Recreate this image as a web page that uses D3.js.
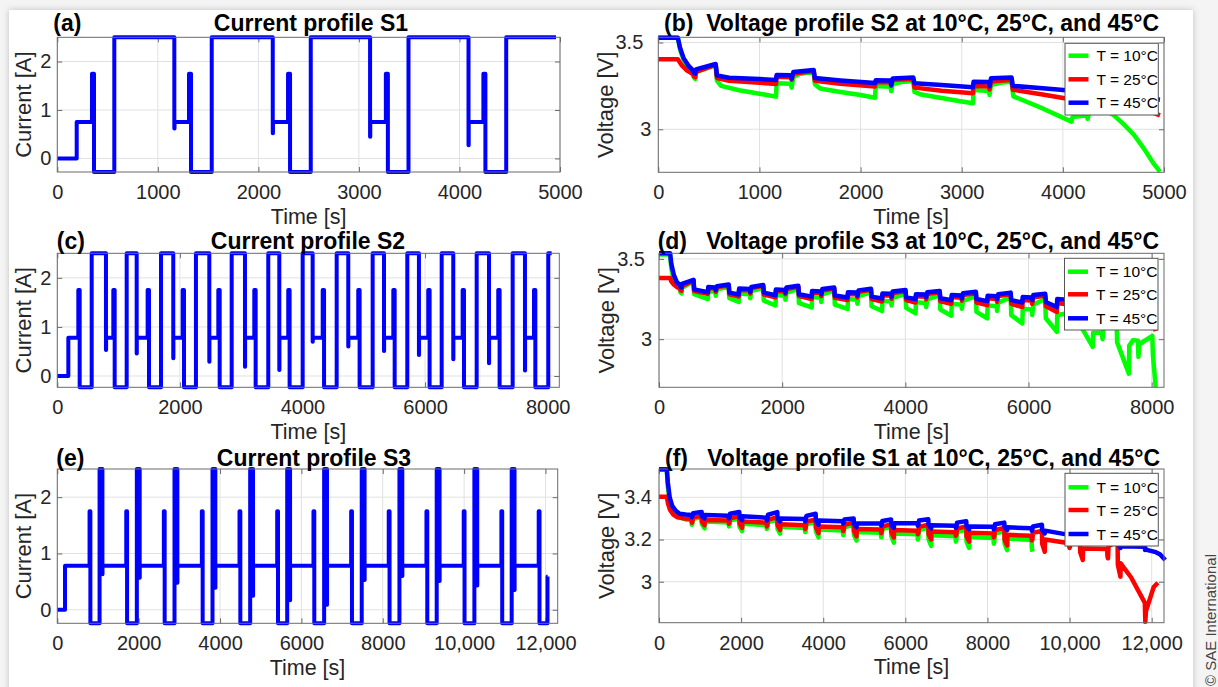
<!DOCTYPE html>
<html>
<head>
<meta charset="utf-8">
<script src="https://cdn.jsdelivr.net/npm/d3@7"></script>
<style>
  html, body { margin: 0; padding: 0; background: #f4f4f4; }
  svg { display: block; }
  text { font-family: "Liberation Sans", Arial, Helvetica, sans-serif; }
</style>
</head>
<body>
<svg id="fig" width="1218" height="687"></svg>
<script>
// ---------- current profiles: [time s, current A], step-after ----------
const currentS1 = [
  [0,0],[193,0.75],[345,1.75],[365,-0.28],[567,2.5],[1164,0.62],[1166,0.75],
  [1310,1.75],[1330,-0.28],[1536,2.5],[2143,0.52],[2145,0.75],
  [2295,1.75],[2315,-0.28],[2521,2.5],[3111,0.45],[3113,0.75],
  [3268,1.75],[3288,-0.28],[3493,2.5],[4090,0.27],[4092,0.75],
  [4238,1.75],[4258,-0.28],[4465,2.5],[4960,2.5]
];
const currentS2 = [
  [0,0],[180,0.78],[343,1.75],[365,-0.23],[561,2.5],[794,0.53],[796,0.78],
  [914,1.75],[936,-0.23],[1132,2.5],[1295,0.46],[1297,0.78],
  [1474,1.75],[1496,-0.23],[1692,2.5],[1892,0.36],[1894,0.78],
  [2045,1.75],[2067,-0.23],[2262,2.5],[2480,0.29],[2482,0.78],
  [2627,1.75],[2649,-0.23],[2845,2.5],[3062,0.19],[3064,0.78],
  [3214,1.75],[3236,-0.23],[3442,2.5],[3622,0.12],[3624,0.78],
  [3768,1.75],[3790,-0.23],[4003,2.5],[4166,0.70],[4168,0.78],
  [4330,1.75],[4352,-0.23],[4558,2.5],[4747,0.60],[4749,0.78],
  [4910,1.75],[4932,-0.23],[5145,2.5],[5330,0.51],[5332,0.78],
  [5482,1.75],[5504,-0.23],[5710,2.5],[5900,0.43],[5902,0.78],
  [6052,1.75],[6074,-0.23],[6271,2.5],[6460,0.34],[6462,0.78],
  [6613,1.75],[6635,-0.23],[6842,2.5],[7043,0.26],[7045,0.78],
  [7194,1.75],[7216,-0.23],[7429,2.5],[7630,0.11],[7632,0.78],
  [7777,1.75],[7799,-0.23],[8010,2.5],[8065,2.5]
];
const currentS3 = [
  [0,0],[190,0.78],
  [793,1.75],[813,-0.24],[1039,2.5],[1109,0.63],[1111,0.78],
  [1695,1.75],[1715,-0.24],[1955,2.5],[2025,0.57],[2027,0.78],
  [2619,1.75],[2639,-0.24],[2881,2.5],[2951,0.48],[2953,0.78],
  [3553,1.75],[3573,-0.24],[3815,2.5],[3885,0.39],[3887,0.78],
  [4479,1.75],[4499,-0.24],[4741,2.5],[4811,0.25],[4813,0.78],
  [5405,1.75],[5425,-0.24],[5651,2.5],[5721,0.17],[5723,0.78],
  [6297,1.75],[6317,-0.24],[6559,2.5],[6629,0.09],[6631,0.78],
  [7223,1.75],[7243,-0.24],[7483,2.5],[7553,0.53],[7555,0.78],
  [8147,1.75],[8167,-0.24],[8410,2.5],[8480,0.60],[8482,0.78],
  [9074,1.75],[9094,-0.24],[9326,2.5],[9396,0.51],[9398,0.78],
  [9990,1.75],[10010,-0.24],[10252,2.5],[10322,0.43],[10324,0.78],
  [10916,1.75],[10936,-0.24],[11169,2.5],[11239,0.35],[11241,0.78],
  [11833,1.75],[11853,-0.24],[12049,0.59],[12050,0.59]
];

// ---------- voltage profile S2: [time s, voltage V] ----------
const voltS2_10C = [
  [0,3.528],[193,3.528],[215,3.46],[250,3.40],[300,3.345],[345,3.313],[352,3.30],[365,3.29],[372,3.33],[567,3.37],
  [580,3.28],[620,3.25],[800,3.225],[1000,3.205],[1164,3.188],[1170,3.265],[1310,3.262],[1318,3.24],[1335,3.30],[1400,3.32],[1536,3.33],
  [1548,3.26],[1600,3.235],[1800,3.215],[2000,3.197],[2143,3.182],[2150,3.25],[2295,3.245],[2303,3.22],[2318,3.26],[2400,3.272],[2521,3.278],
  [2533,3.215],[2600,3.2],[2800,3.18],[3000,3.16],[3111,3.15],[3117,3.226],[3268,3.22],[3275,3.198],[3290,3.255],[3400,3.27],[3493,3.274],
  [3510,3.19],[3800,3.12],[4085,3.044],[4095,3.07],[4238,3.08],[4245,3.06],[4262,3.10],[4465,3.12],
  [4475,3.09],[4505,3.08],[4600,3.03],[4700,2.97],[4800,2.89],[4900,2.80],[4960,2.756]
];
const voltS2_25C = [
  [0,3.403],[193,3.403],[230,3.37],[280,3.34],[345,3.318],[352,3.305],[365,3.30],[372,3.33],[567,3.372],
  [580,3.295],[700,3.28],[1000,3.268],[1164,3.261],[1170,3.303],[1310,3.30],[1318,3.285],[1335,3.32],[1536,3.335],
  [1548,3.28],[1800,3.262],[2143,3.247],[2150,3.273],[2295,3.27],[2303,3.25],[2318,3.285],[2521,3.29],
  [2533,3.24],[2800,3.222],[3111,3.207],[3117,3.25],[3268,3.246],[3275,3.23],[3290,3.275],[3493,3.285],
  [3505,3.228],[3800,3.2],[4090,3.172],[4095,3.21],[4238,3.205],[4245,3.19],[4262,3.23],[4465,3.24],
  [4475,3.18],[4700,3.14],[4960,3.08]
];
const voltS2_45C = [
  [0,3.528],[193,3.528],[215,3.47],[250,3.41],[300,3.365],[345,3.338],[352,3.325],[365,3.32],[372,3.345],[567,3.376],
  [580,3.31],[700,3.297],[1000,3.289],[1164,3.284],[1170,3.313],[1310,3.311],[1318,3.292],[1335,3.33],[1536,3.342],
  [1548,3.295],[1800,3.281],[2143,3.266],[2150,3.283],[2295,3.281],[2303,3.255],[2318,3.292],[2521,3.298],
  [2533,3.265],[2800,3.255],[3111,3.242],[3117,3.274],[3268,3.272],[3275,3.248],[3290,3.294],[3493,3.298],
  [3505,3.25],[3800,3.237],[4090,3.222],[4095,3.25],[4238,3.248],[4245,3.235],[4262,3.26],[4465,3.265],
  [4475,3.21],[4700,3.19],[4960,3.17]
];

// ---------- voltage profile S3 ----------
const voltS3_10C = [
  [0,3.527],[180,3.527],[200,3.44],[240,3.37],[290,3.33],[343,3.31],[350,3.29],[365,3.285],[372,3.32],[561,3.36],
  [571,3.28],[794,3.25],[800,3.30],[914,3.295],[922,3.27],[940,3.31],[1132,3.325],
  [1142,3.255],[1295,3.232],[1301,3.285],[1474,3.28],[1482,3.255],[1500,3.30],[1692,3.32],
  [1702,3.24],[1892,3.21],[1898,3.275],[2045,3.27],[2053,3.245],[2070,3.29],[2262,3.312],
  [2272,3.225],[2480,3.198],[2486,3.262],[2627,3.258],[2635,3.232],[2652,3.28],[2845,3.302],
  [2855,3.215],[3062,3.188],[3068,3.25],[3214,3.246],[3222,3.22],[3240,3.268],[3442,3.292],
  [3452,3.205],[3622,3.175],[3628,3.24],[3768,3.235],[3776,3.21],[3794,3.258],[4003,3.282],
  [4013,3.195],[4166,3.161],[4172,3.23],[4330,3.225],[4338,3.2],[4356,3.248],[4558,3.275],
  [4568,3.185],[4747,3.146],[4753,3.22],[4910,3.215],[4918,3.19],[4936,3.238],[5145,3.268],
  [5155,3.17],[5330,3.13],[5336,3.21],[5482,3.205],[5490,3.175],[5508,3.228],[5710,3.26],
  [5720,3.15],[5900,3.098],[5906,3.19],[6052,3.185],[6060,3.15],[6078,3.215],[6271,3.25],
  [6281,3.13],[6460,3.046],[6466,3.15],[6613,3.16],[6621,3.12],[6639,3.19],[6842,3.22],
  [6852,3.08],[7043,2.952],[7049,3.04],[7194,3.04],[7202,3.0],[7220,3.08],[7429,3.14],
  [7439,2.98],[7630,2.785],[7636,2.96],[7700,2.994],[7777,2.99],[7785,2.89],[7803,2.97],[8010,3.02],
  [8020,2.9],[8065,2.70]
];
const voltS3_25C = [
  [0,3.381],[180,3.381],[200,3.36],[240,3.34],[290,3.325],[343,3.318],[350,3.305],[365,3.302],[372,3.33],[561,3.365],
  [571,3.30],[794,3.282],[800,3.318],[914,3.315],[922,3.295],[940,3.325],[1132,3.335],
  [1142,3.28],[1295,3.266],[1301,3.307],[1474,3.304],[1482,3.285],[1500,3.318],[1692,3.332],
  [1702,3.278],[1892,3.26],[1898,3.30],[2045,3.297],[2053,3.28],[2070,3.313],[2262,3.326],
  [2272,3.268],[2480,3.25],[2486,3.29],[2627,3.287],[2635,3.268],[2652,3.303],[2845,3.315],
  [2855,3.258],[3062,3.243],[3068,3.282],[3214,3.28],[3222,3.26],[3240,3.295],[3442,3.307],
  [3452,3.25],[3622,3.235],[3628,3.274],[3768,3.272],[3776,3.252],[3794,3.287],[4003,3.298],
  [4013,3.243],[4166,3.228],[4172,3.268],[4330,3.265],[4338,3.248],[4356,3.282],[4558,3.292],
  [4568,3.236],[4747,3.22],[4753,3.262],[4910,3.258],[4918,3.24],[4936,3.275],[5145,3.286],
  [5155,3.228],[5330,3.212],[5336,3.255],[5482,3.25],[5490,3.232],[5508,3.268],[5710,3.28],
  [5720,3.22],[5900,3.2],[5906,3.245],[6052,3.24],[6060,3.22],[6078,3.26],[6271,3.272],
  [6281,3.205],[6460,3.17],[6466,3.225],[6613,3.218],[6621,3.2],[6639,3.24],[6842,3.255],
  [6852,3.18],[7043,3.13],[7049,3.2],[7194,3.19],[7202,3.17],[7220,3.215],[7429,3.235],
  [7439,3.15],[7630,3.08],[7636,3.17],[7777,3.16],[7785,3.13],[7803,3.19],[8010,3.21],
  [8020,3.10],[8065,3.05]
];
const voltS3_45C = [
  [0,3.535],[180,3.535],[200,3.47],[240,3.40],[290,3.355],[343,3.338],[350,3.325],[365,3.322],[372,3.345],[561,3.37],
  [571,3.31],[794,3.292],[800,3.325],[914,3.322],[922,3.305],[940,3.33],[1132,3.34],
  [1142,3.29],[1295,3.278],[1301,3.315],[1474,3.312],[1482,3.295],[1500,3.325],[1692,3.338],
  [1702,3.29],[1892,3.274],[1898,3.31],[2045,3.307],[2053,3.29],[2070,3.322],[2262,3.333],
  [2272,3.28],[2480,3.265],[2486,3.30],[2627,3.297],[2635,3.28],[2652,3.312],[2845,3.322],
  [2855,3.272],[3062,3.26],[3068,3.292],[3214,3.29],[3222,3.272],[3240,3.304],[3442,3.314],
  [3452,3.265],[3622,3.253],[3628,3.285],[3768,3.283],[3776,3.265],[3794,3.297],[4003,3.306],
  [4013,3.26],[4166,3.25],[4172,3.28],[4330,3.278],[4338,3.262],[4356,3.292],[4558,3.30],
  [4568,3.255],[4747,3.243],[4753,3.275],[4910,3.272],[4918,3.255],[4936,3.286],[5145,3.295],
  [5155,3.25],[5330,3.237],[5336,3.27],[5482,3.268],[5490,3.25],[5508,3.28],[5710,3.29],
  [5720,3.243],[5900,3.228],[5906,3.263],[6052,3.26],[6060,3.243],[6078,3.275],[6271,3.283],
  [6281,3.232],[6460,3.20],[6466,3.25],[6613,3.245],[6621,3.23],[6639,3.26],[6842,3.27],
  [6852,3.22],[7043,3.195],[7049,3.235],[7194,3.23],[7202,3.215],[7220,3.248],[7429,3.258],
  [7439,3.205],[7630,3.178],[7636,3.22],[7777,3.215],[7785,3.2],[7803,3.235],[8010,3.245],
  [8020,3.19],[8065,3.18]
];

// ---------- voltage profile S1 ----------
const voltS1_10C = [
  [0,3.53],[190,3.53],[215,3.45],[260,3.38],[320,3.34],[400,3.32],[500,3.305],[650,3.295],[793,3.292],[800,3.27],[813,3.275],[830,3.298],[1039,3.305],
  [1045,3.272],[1109,3.253],[1115,3.285],[1695,3.28],
  [1702,3.262],[1715,3.268],[1730,3.29],[1955,3.30],[1962,3.26],[2025,3.24],[2031,3.275],[2619,3.268],
  [2626,3.25],[2639,3.255],[2655,3.283],[2881,3.293],[2888,3.25],[2951,3.228],[2957,3.26],[3553,3.255],
  [3560,3.235],[3573,3.24],[3590,3.272],[3815,3.283],[3822,3.24],[3885,3.21],[3891,3.248],[4479,3.243],
  [4486,3.22],[4499,3.228],[4515,3.258],[4741,3.27],[4748,3.222],[4811,3.195],[4817,3.236],[5405,3.232],
  [5412,3.21],[5425,3.218],[5440,3.25],[5651,3.26],[5658,3.215],[5721,3.185],[5727,3.228],[6297,3.225],
  [6304,3.2],[6317,3.208],[6333,3.245],[6559,3.256],[6566,3.2],[6629,3.17],[6635,3.22],[7223,3.215],
  [7230,3.19],[7243,3.198],[7260,3.235],[7483,3.247],[7490,3.19],[7553,3.16],[7559,3.212],[8147,3.207],
  [8154,3.18],[8167,3.19],[8183,3.228],[8410,3.24],[8417,3.18],[8480,3.15],[8486,3.205],[9074,3.198],
  [9081,3.16],[9100,3.142]
];
const voltS1_25C = [
  [0,3.403],[190,3.403],[220,3.37],[270,3.34],[350,3.318],[450,3.305],[600,3.30],[793,3.298],[800,3.28],[813,3.285],[830,3.305],[1039,3.312],
  [1045,3.285],[1109,3.268],[1115,3.293],[1695,3.29],
  [1702,3.275],[1715,3.28],[1730,3.30],[1955,3.31],[1962,3.275],[2025,3.255],[2031,3.285],[2619,3.28],
  [2626,3.262],[2639,3.268],[2655,3.295],[2881,3.305],[2888,3.268],[2951,3.245],[2957,3.272],[3553,3.268],
  [3560,3.25],[3573,3.256],[3590,3.285],[3815,3.295],[3822,3.258],[3885,3.23],[3891,3.262],[4479,3.258],
  [4486,3.24],[4499,3.246],[4515,3.27],[4741,3.28],[4748,3.24],[4811,3.215],[4817,3.25],[5405,3.247],
  [5412,3.23],[5425,3.236],[5440,3.262],[5651,3.272],[5658,3.235],[5721,3.21],[5727,3.245],[6297,3.242],
  [6304,3.225],[6317,3.23],[6333,3.26],[6559,3.27],[6566,3.225],[6629,3.20],[6635,3.238],[7223,3.235],
  [7230,3.218],[7243,3.224],[7260,3.252],[7483,3.262],[7490,3.215],[7553,3.19],[7559,3.232],[8147,3.228],
  [8154,3.21],[8167,3.216],[8183,3.245],[8410,3.255],[8417,3.2],[8480,3.172],[8486,3.222],[9074,3.218],
  [9081,3.195],[9094,3.2],[9110,3.232],[9326,3.24],[9333,3.18],[9396,3.142],[9402,3.20],[9990,3.182],
  [9997,3.16],[10010,3.165],[10025,3.2],[10252,3.21],[10259,3.14],[10322,3.103],[10328,3.158],[10916,3.155],
  [10923,3.12],[10936,3.111],[10950,3.17],[11169,3.19],[11176,3.08],[11239,3.024],[11245,3.087],
  [11500,3.02],[11833,2.90],[11845,2.81],[11860,2.86],[12049,2.975],[12150,2.995]
];
const voltS1_45C = [
  [0,3.533],[190,3.533],[215,3.47],[260,3.40],[320,3.36],[400,3.338],[500,3.322],[650,3.318],[793,3.316],[800,3.305],[813,3.31],[830,3.325],[1039,3.33],
  [1045,3.31],[1109,3.30],[1115,3.316],[1695,3.312],
  [1702,3.30],[1715,3.305],[1730,3.322],[1955,3.33],[1962,3.305],[2025,3.292],[2031,3.31],[2619,3.303],
  [2626,3.29],[2639,3.295],[2655,3.318],[2881,3.33],[2888,3.30],[2951,3.285],[2957,3.30],[3553,3.297],
  [3560,3.285],[3573,3.29],[3590,3.312],[3815,3.322],[3822,3.29],[3885,3.27],[3891,3.29],[4479,3.287],
  [4486,3.275],[4499,3.28],[4515,3.295],[4741,3.30],[4748,3.275],[4811,3.258],[4817,3.276],[5405,3.276],
  [5412,3.265],[5425,3.27],[5440,3.288],[5651,3.295],[5658,3.27],[5721,3.255],[5727,3.277],[6297,3.277],
  [6304,3.265],[6317,3.27],[6333,3.29],[6559,3.296],[6566,3.27],[6629,3.253],[6635,3.267],[7223,3.265],
  [7230,3.255],[7243,3.26],[7260,3.28],[7483,3.287],[7490,3.262],[7553,3.248],[7559,3.262],[8147,3.26],
  [8154,3.248],[8167,3.252],[8183,3.272],[8410,3.28],[8417,3.258],[8480,3.245],[8486,3.258],[9074,3.253],
  [9081,3.242],[9094,3.248],[9110,3.262],[9326,3.27],[9333,3.245],[9396,3.229],[9402,3.242],[9990,3.222],
  [9997,3.21],[10010,3.215],[10025,3.235],[10252,3.24],[10259,3.215],[10322,3.195],[10328,3.21],[10916,3.19],
  [10923,3.18],[10936,3.185],[10950,3.205],[11169,3.21],[11176,3.18],[11239,3.16],[11245,3.168],[11833,3.166],
  [11840,3.15],[11853,3.155],[11900,3.15],[12100,3.14],[12200,3.13],[12330,3.103]
];

// ---------- axis ticks and labels ----------
const ticksTime5k = [0, 1000, 2000, 3000, 4000, 5000];
const ticksTime8k = [0, 2000, 4000, 6000, 8000];
const ticksTime12k = [0, 2000, 4000, 6000, 8000, 10000, 12000];
const labelsTime12k = ["0", "2000", "4000", "6000", "8000", "10,000", "12,000"];
const ticksCurrent = [0, 1, 2];
const ticksVoltHalf = [3, 3.5];
const ticksVoltFine = [3, 3.2, 3.4];

const seriesNames = ["T = 10°C", "T = 25°C", "T = 45°C"];
const seriesColors = ["#00ff00", "#ff0000", "#0000ff"];

// ---------- figure setup ----------
const svg = d3.select("#fig");
const defs = svg.append("defs");
const shadow = defs.append("filter").attr("id", "cardShadow")
  .attr("x", "-5%").attr("y", "-5%").attr("width", "110%").attr("height", "110%");
shadow.append("feDropShadow").attr("dx", 0).attr("dy", 0)
  .attr("stdDeviation", 3).attr("flood-color", "#000").attr("flood-opacity", 0.22);

svg.append("rect").attr("width", 1218).attr("height", 687).attr("fill", "#f4f4f4");
svg.append("rect").attr("x", 9).attr("y", 10).attr("width", 1184).attr("height", 700)
  .attr("fill", "#fff").attr("filter", "url(#cardShadow)");

const FONT = '"Liberation Sans", Arial, Helvetica, sans-serif';
const AXIS_GREY = "#6b6b6b";
const TEXT_GREY = "#262626";

function styleAxis(sel) {
  sel.select(".domain").remove();
  sel.selectAll(".tick line").attr("stroke", AXIS_GREY).attr("stroke-width", 1);
  sel.selectAll("text").attr("font-family", FONT).attr("font-size", 20).attr("fill", TEXT_GREY);
}

function drawPanel(p) {
  const b = p.box;
  const x = d3.scaleLinear().domain(p.xDomain).range([b.left, b.right]);
  const y = d3.scaleLinear().domain(p.yDomain).range([b.bottom, b.top]);
  const g = svg.append("g");

  // grid
  g.append("g").selectAll("line").data(p.xTicks).join("line")
    .attr("x1", d => x(d)).attr("x2", d => x(d))
    .attr("y1", b.top).attr("y2", b.bottom)
    .attr("stroke", "#e1e1e1").attr("stroke-width", 1);
  g.append("g").selectAll("line").data(p.yTicks).join("line")
    .attr("x1", b.left).attr("x2", b.right)
    .attr("y1", d => y(d)).attr("y2", d => y(d))
    .attr("stroke", "#e1e1e1").attr("stroke-width", 1);

  // axes (inward ticks on all four sides)
  const xl = p.xTickLabels;
  g.append("g").attr("transform", `translate(0,${b.bottom})`)
    .call(d3.axisBottom(x).tickValues(p.xTicks)
      .tickFormat((d, i) => xl ? xl[i] : String(d))
      .tickSizeInner(-5).tickSizeOuter(0).tickPadding(13))
    .call(styleAxis);
  g.append("g").attr("transform", `translate(0,${b.top})`)
    .call(d3.axisTop(x).tickValues(p.xTicks).tickFormat("").tickSizeInner(-5).tickSizeOuter(0))
    .call(styleAxis);
  const yAxis = g.append("g").attr("transform", `translate(${b.left},0)`)
    .call(d3.axisLeft(y).tickValues(p.yTicks).tickFormat(d => String(d))
      .tickSizeInner(-5).tickSizeOuter(0).tickPadding(p.yPad))
    .call(styleAxis);
  if (p.topLabelShift) {
    yAxis.selectAll(".tick").filter(d => d === p.yTicks[p.yTicks.length - 1])
      .select("text").attr("dx", p.topLabelShift);
  }
  g.append("g").attr("transform", `translate(${b.right},0)`)
    .call(d3.axisRight(y).tickValues(p.yTicks).tickFormat("").tickSizeInner(-5).tickSizeOuter(0))
    .call(styleAxis);

  // series
  const line = d3.line().x(d => x(d[0])).y(d => y(d[1]));
  if (p.step) line.curve(d3.curveStepAfter);
  p.series.forEach((s, i) => {
    g.append("path").datum(s)
      .attr("d", line)
      .attr("fill", "none")
      .attr("stroke", p.colors[i])
      .attr("stroke-width", p.lineWidth)
      .attr("stroke-linejoin", "round")
      .attr("stroke-linecap", "butt");
  });

  // box
  g.append("rect").attr("x", b.left).attr("y", b.top)
    .attr("width", b.right - b.left).attr("height", b.bottom - b.top)
    .attr("fill", "none").attr("stroke", AXIS_GREY).attr("stroke-width", 1);

  // axis labels
  const cx = (b.left + b.right) / 2, cy = (b.top + b.bottom) / 2;
  g.append("text").attr("x", cx).attr("y", b.bottom + 51.5)
    .attr("text-anchor", "middle").attr("font-size", 21.5).attr("fill", TEXT_GREY)
    .text("Time [s]");
  g.append("text")
    .attr("transform", `translate(${b.left - p.yLabelGap},${cy}) rotate(-90)`)
    .attr("text-anchor", "middle").attr("font-size", 22).attr("fill", TEXT_GREY)
    .text(p.yLabel);

  // titles
  if (p.tag) {
    g.append("text").attr("x", b.left + p.tagDx).attr("y", p.titleY)
      .attr("font-size", 23).attr("font-weight", "bold").attr("fill", "#000").text(p.tag);
    g.append("text").attr("x", p.titleX).attr("y", p.titleY)
      .attr("text-anchor", "middle").attr("font-size", 23).attr("font-weight", "bold")
      .attr("fill", "#000").text(p.title);
  } else {
    g.append("text").attr("x", p.titleEnd).attr("y", p.titleY)
      .attr("text-anchor", "end").attr("font-size", 23).attr("font-weight", "bold")
      .attr("fill", "#000").style("white-space", "pre").text(p.title);
  }

  // legend
  if (p.legend) {
    const L = p.legend;
    const lg = g.append("g");
    lg.append("rect").attr("x", L.x).attr("y", L.y).attr("width", L.w).attr("height", L.h)
      .attr("fill", "#fff").attr("stroke", "#555").attr("stroke-width", 1);
    seriesNames.forEach((name, i) => {
      const ry = L.y + L.rows[i];
      lg.append("line").attr("x1", L.x + 3.5).attr("x2", L.x + 23.5)
        .attr("y1", ry).attr("y2", ry)
        .attr("stroke", seriesColors[i]).attr("stroke-width", 4.5);
      lg.append("text").attr("x", L.x + 31.5).attr("y", ry).attr("dy", "0.36em")
        .attr("font-size", 15.5).attr("fill", "#000").style("white-space", "pre").text(name);
    });
  }
}

const blue = ["#0000ff"];

drawPanel({
  box: {left: 57.3, right: 560, top: 37.3, bottom: 172},
  xDomain: [0, 5000], yDomain: [-0.28, 2.5],
  xTicks: ticksTime5k, yTicks: ticksCurrent, yPad: 6,
  series: [currentS1], colors: blue, lineWidth: 4, step: true,
  yLabel: "Current [A]", yLabelGap: 26.3,
  tag: "(a)", tagDx: -4, title: "Current profile S1", titleX: 311, titleY: 30.5
});
drawPanel({
  box: {left: 658.3, right: 1164, top: 37.3, bottom: 172.3},
  xDomain: [0, 5000], yDomain: [2.752, 3.53],
  xTicks: ticksTime5k, yTicks: ticksVoltHalf, yPad: 7, topLabelShift: -8,
  series: [voltS2_10C, voltS2_25C, voltS2_45C], colors: seriesColors, lineWidth: 4.5,
  yLabel: "Voltage [V]", yLabelGap: 45.5,
  title: "(b)  Voltage profile S2 at 10°C, 25°C, and 45°C", titleEnd: 1159, titleY: 30.5,
  legend: {x: 1065, y: 43.3, w: 93.3, h: 71.7, rows: [12.4, 36, 59.4]}
});
drawPanel({
  box: {left: 57.3, right: 559.3, top: 253.3, bottom: 387.3},
  xDomain: [0, 8190], yDomain: [-0.23, 2.5],
  xTicks: ticksTime8k, yTicks: ticksCurrent, yPad: 6,
  series: [currentS2], colors: blue, lineWidth: 4, step: true,
  yLabel: "Current [A]", yLabelGap: 26.3,
  tag: "(c)", tagDx: -0.5, title: "Current profile S2", titleX: 308, titleY: 249
});
drawPanel({
  box: {left: 659, right: 1164, top: 253.3, bottom: 387.3},
  xDomain: [0, 8200], yDomain: [2.70, 3.535],
  xTicks: ticksTime8k, yTicks: ticksVoltHalf, yPad: 7, topLabelShift: -7,
  series: [voltS3_10C, voltS3_25C, voltS3_45C], colors: seriesColors, lineWidth: 4.5,
  yLabel: "Voltage [V]", yLabelGap: 45.5,
  title: "(d)   Voltage profile S3 at 10°C, 25°C, and 45°C", titleEnd: 1159, titleY: 249,
  legend: {x: 1064.5, y: 258.3, w: 93.5, h: 71.7, rows: [13.4, 36, 60]}
});
drawPanel({
  box: {left: 57.3, right: 557.7, top: 469, bottom: 623.3},
  xDomain: [0, 12300], yDomain: [-0.24, 2.5],
  xTicks: ticksTime12k, xTickLabels: labelsTime12k, yTicks: ticksCurrent, yPad: 6,
  series: [currentS3], colors: blue, lineWidth: 4, step: true,
  yLabel: "Current [A]", yLabelGap: 26.3,
  tag: "(e)", tagDx: -1, title: "Current profile S3", titleX: 314, titleY: 466
});
drawPanel({
  box: {left: 659, right: 1164, top: 469, bottom: 622.7},
  xDomain: [0, 12300], yDomain: [2.806, 3.534],
  xTicks: ticksTime12k, xTickLabels: labelsTime12k, yTicks: ticksVoltFine, yPad: 7,
  series: [voltS1_10C, voltS1_25C, voltS1_45C], colors: seriesColors, lineWidth: 4.5,
  yLabel: "Voltage [V]", yLabelGap: 45.5,
  title: "(f)   Voltage profile S1 at 10°C, 25°C, and 45°C", titleEnd: 1160, titleY: 466,
  legend: {x: 1065, y: 473.3, w: 93.3, h: 72.7, rows: [14, 36.7, 60.7]}
});

// copyright notice along the right edge
svg.append("text")
  .attr("transform", "translate(1216,686) rotate(-90)")
  .attr("font-size", 15).attr("fill", "#444").attr("font-family", FONT)
  .text("© SAE International");
</script>
</body>
</html>
